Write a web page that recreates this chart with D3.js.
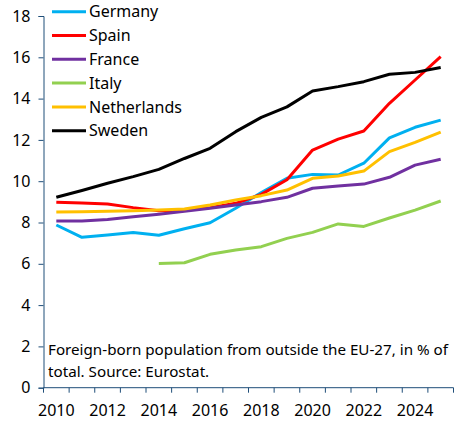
<!DOCTYPE html>
<html>
<head>
<meta charset="utf-8">
<script src="https://cdn.jsdelivr.net/npm/d3@7"></script>
<style>
  body { margin: 0; background: #fff; }
  text { font-family: "Noto Sans", sans-serif; fill: #000; }
</style>
</head>
<body>
<div id="chart"></div>
<script>
(function () {
    const years = d3.range(2010, 2026);
    const yTicks = [0, 2, 4, 6, 8, 10, 12, 14, 16, 18];
    const xTickLabels = [2010, 2012, 2014, 2016, 2018, 2020, 2022, 2024];

    const countries = ["Germany", "Spain", "France", "Italy", "Netherlands", "Sweden"];
    const colors = ["#00B0F0", "#FF0000", "#7030A0", "#92D050", "#FFC000", "#000000"];

    // values 2010..2025, null = no data
    const germany     = [7.88, 7.28, 7.39, 7.52, 7.38, 7.70, 7.99, 8.69, 9.45, 10.14, 10.33, 10.30, 10.87, 12.10, 12.61, 12.96];
    const spain       = [8.98, 8.94, 8.90, 8.72, 8.57, 8.59, 8.72, 8.93, 9.36, 10.07, 11.51, 12.04, 12.43, 13.77, 14.90, 16.03];
    const france      = [8.07, 8.07, 8.15, 8.28, 8.40, 8.54, 8.69, 8.85, 9.01, 9.22, 9.66, 9.77, 9.86, 10.19, 10.78, 11.06];
    const italy       = [null, null, null, null, 6.02, 6.05, 6.46, 6.67, 6.83, 7.23, 7.52, 7.93, 7.81, 8.22, 8.60, 9.04];
    const netherlands = [8.51, 8.52, 8.54, 8.57, 8.60, 8.65, 8.85, 9.09, 9.30, 9.57, 10.14, 10.25, 10.49, 11.43, 11.88, 12.38];
    const sweden      = [9.22, 9.55, 9.90, 10.22, 10.57, 11.10, 11.59, 12.40, 13.09, 13.60, 14.37, 14.58, 14.82, 15.18, 15.27, 15.51];
    const seriesValues = [germany, spain, france, italy, netherlands, sweden];

    const noteLines = ["Foreign-born population from outside the EU-27, in % of", "total. Source: Eurostat."];

    const width = 462, height = 427;
    const left = 43.5, right = 453.5, top = 16, bottom = 387.7;
    const axisColor = "#1F4E79";

    const svg = d3.select("#chart").append("svg")
        .attr("width", width)
        .attr("height", height);

    // category axis, points sit between tick marks
    const x = d3.scaleBand()
        .domain(years)
        .range([left, right])
        .paddingInner(0).paddingOuter(0);

    const y = d3.scaleLinear()
        .domain([0, 18])
        .range([bottom, top]);

    const xc = d => x(d) + x.bandwidth() / 2;

    // y axis
    const yAxis = svg.append("g")
        .attr("transform", `translate(${left},0)`)
        .call(d3.axisLeft(y).tickValues(yTicks).tickSize(5).tickPadding(8).tickFormat(d3.format("d")));
    yAxis.select(".domain").attr("stroke", axisColor);
    yAxis.selectAll(".tick line").attr("stroke", axisColor);
    yAxis.selectAll(".tick text").attr("font-size", 16).attr("fill", "#000")
        .style("font-family", '"Noto Sans", sans-serif');

    // x axis: tick marks at band edges
    const xAxisG = svg.append("g").attr("transform", `translate(0,${bottom})`);
    xAxisG.append("line")
        .attr("x1", left).attr("x2", right)
        .attr("stroke", axisColor);
    const edges = years.map(d => x(d)).concat([right]);
    xAxisG.selectAll(".edge").data(edges).enter().append("line")
        .attr("x1", d => d).attr("x2", d => d)
        .attr("y1", 0).attr("y2", 5)
        .attr("stroke", axisColor);
    xAxisG.selectAll(".lbl").data(xTickLabels).enter().append("text")
        .attr("x", d => xc(d))
        .attr("y", 28)
        .attr("text-anchor", "middle")
        .attr("font-size", 16)
        .text(d => d);

    // lines
    const line = d3.line()
        .defined(d => d.v != null)
        .x(d => xc(d.year))
        .y(d => y(d.v));

    const series = countries.map((c, i) => ({
        name: c,
        color: colors[i],
        values: years.map((yr, j) => ({ year: yr, v: seriesValues[i][j] }))
    }));

    svg.append("g").selectAll("path").data(series).enter().append("path")
        .attr("fill", "none")
        .attr("stroke", d => d.color)
        .attr("stroke-width", 3)
        .attr("stroke-linejoin", "round")
        .attr("d", d => line(d.values));

    // legend
    const legend = svg.append("g");
    const rowH = 23.8;
    const legRows = legend.selectAll("g").data(series).enter().append("g")
        .attr("transform", (d, i) => `translate(52,${11.7 + i * rowH})`);
    legRows.append("line")
        .attr("x1", 0).attr("x2", 34)
        .attr("stroke", d => d.color)
        .attr("stroke-width", 3);
    legRows.append("text")
        .attr("x", 37)
        .attr("dy", "0.35em")
        .attr("font-size", 16)
        .text(d => d.name);

    // note
    svg.append("g").selectAll("text").data(noteLines).enter().append("text")
        .attr("x", 48)
        .attr("y", (d, i) => 355 + i * 22)
        .attr("font-size", 15.2)
        .text(d => d);
})();
</script>
</body>
</html>
